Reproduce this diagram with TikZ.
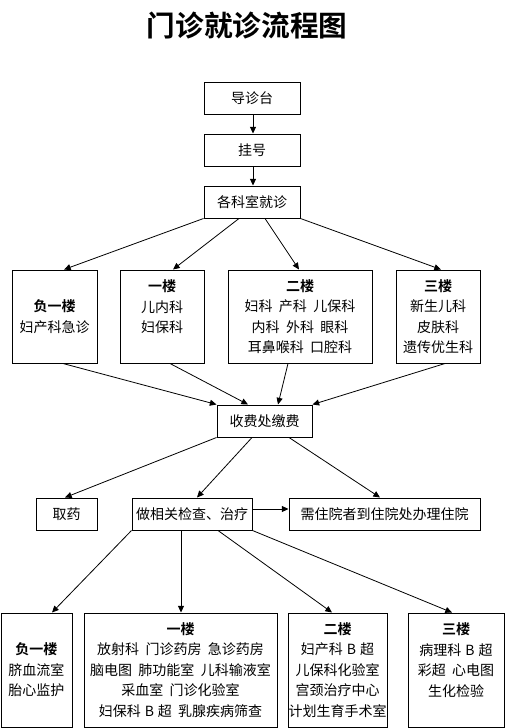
\documentclass[tikz,border=0pt]{standalone}
\usepackage{fontspec}
\newfontfamily\cjk[BoldFont={Noto Sans CJK SC Bold}]{Noto Sans CJK SC}
\usetikzlibrary{arrows.meta,calc}
\newcommand{\gapsp}{\hspace{0.45em}}
\newcommand{\bsp}{\hspace{0.28em}}
\begin{document}
\begin{tikzpicture}[x=0.75pt,y=-0.75pt,
  font=\cjk\fontsize{10.5pt}{15.4pt}\selectfont,
  box/.style={draw,line width=0.75pt,inner sep=0pt,align=center},
  small/.style={box,minimum width=72pt,minimum height=24pt},
  conn/.style={line width=0.6pt,-{Triangle[length=5pt,width=4.5pt]}}]
\useasboundingbox (0,0) rectangle (505,728);
\node (title) at (247,26) {\fontsize{21.5pt}{24pt}\selectfont\bfseries 门诊就诊流程图};
\node[small] (d) at (252,98) {导诊台};
\node[small] (g) at (252,150) {挂号};
\node[small] (k) at (252,202) {各科室就诊};
\node[box,minimum width=63.75pt,minimum height=69.75pt] (a1) at (54.5,316.5) {\textbf{负一楼}\\妇产科急诊};
\node[box,minimum width=63pt,minimum height=69.75pt] (a2) at (162,316.5) {\textbf{一楼}\\儿内科\\妇保科\\\mbox{}};
\node[box,minimum width=108pt,minimum height=69.75pt] (a3) at (300,316.5) {\textbf{二楼}\\妇科\gapsp 产科\gapsp 儿保科\\内科\gapsp 外科\gapsp 眼科\\耳鼻喉科\gapsp 口腔科};
\node[box,minimum width=63pt,minimum height=69.75pt] (a4) at (438,316.5) {\textbf{三楼}\\新生儿科\\皮肤科\\遗传优生科};
\node[box,minimum width=71.25pt,minimum height=24pt] (s) at (264.5,421) {收费处缴费};
\node[box,minimum width=45.75pt,minimum height=24pt] (q) at (66.5,514) {取药};
\node[box,minimum width=90pt,minimum height=24pt] (z) at (192,514) {做相关检查、治疗};
\node[box,minimum width=143.25pt,minimum height=24pt] (h) at (384.5,514) {需住院者到住院处办理住院};
\node[box,minimum width=53.25pt,minimum height=85.5pt] (b1) at (36.5,670) {\textbf{负一楼}\\脐血流室\\胎心监护};
\node[box,minimum width=144.75pt,minimum height=85.5pt] (b2) at (180.5,670) {\textbf{一楼}\\放射科\gapsp 门诊药房\gapsp 急诊药房\\脑电图\gapsp 肺功能室\gapsp 儿科输液室\\采血室\gapsp 门诊化验室\\妇保科\bsp B\bsp 超\gapsp 乳腺疾病筛查};
\node[box,minimum width=74.25pt,minimum height=85.5pt] (b3) at (337.5,670) {\textbf{二楼}\\妇产科\bsp B\bsp 超\\儿保科化验室\\宫颈治疗中心\\计划生育手术室};
\node[box,minimum width=72pt,minimum height=85.5pt] (b4) at (456,670) {\textbf{三楼}\\病理科\bsp B\bsp 超\\彩超\gapsp 心电图\\生化检验\\\mbox{}};
% connectors
\draw[conn] ($(d.south)+(1,0)$) -- ($(g.north)+(1,0)$);
\draw[conn] ($(g.south)+(1,0)$) -- ($(k.north)+(1,0)$);
\draw[conn] (k.south west) -- ($(a1.north)+(9.5,0)$);
\draw[conn] ($(k.south)+(-13,0)$) -- ($(a2.north)+(11,0)$);
\draw[conn] ($(k.south)+(13,0)$) -- ($(a3.north)+(-1,0)$);
\draw[conn] (k.south east) -- ($(a4.north)+(3,0)$);
\draw[conn] ($(a1.south)+(8.5,0)$) -- (s.north west);
\draw[conn] ($(a2.south)+(8,0)$) -- ($(s.north)+(-16.5,0)$);
\draw[conn] ($(a3.south)+(-12,0)$) -- ($(s.north)+(13.5,0)$);
\draw[conn] ($(a4.south)+(7,0)$) -- (s.north east);
\draw[conn] (s.south west) -- ($(q.north)+(-1.5,0)$);
\draw[conn] ($(s.south)+(-12.5,0)$) -- ($(z.north)+(5,0)$);
\draw[conn] ($(s.south)+(24.5,0)$) -- ($(h.north)+(-4.5,0)$);
\draw[conn] ($(z.east)+(0,-5)$) -- ($(h.west)+(0,-5)$);
\draw[conn] (z.south west) -- ($(b1.north)+(15.5,0)$);
\draw[conn] ($(z.south)+(-11,0)$) -- ($(b2.north)+(0.5,0)$);
\draw[conn] ($(z.south)+(26,0)$) -- ($(b3.north)+(-5.5,0)$);
\draw[conn] (z.south east) -- ($(b4.north)+(-4,0)$);
\end{tikzpicture}
\end{document}
